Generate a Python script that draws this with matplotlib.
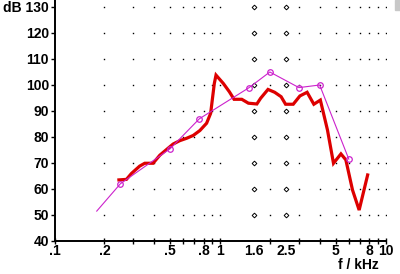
import numpy as np
import matplotlib as mpl
mpl.use('Agg')
import matplotlib.pyplot as plt
import matplotlib.patches as mpatches

plt.rcParams['font.family'] = ['Liberation Sans', 'DejaVu Sans']
plt.rcParams['font.weight'] = 'bold'

#%% DATA
### measured spectrum (thick red)
spec_khz = [0.245, 0.272, 0.292, 0.327, 0.351, 0.394, 0.433, 0.486, 0.521, 0.572,
            0.628, 0.689, 0.756, 0.83, 0.878, 0.898, 0.924, 0.946, 1.047, 1.139,
            1.216, 1.354, 1.485, 1.67, 1.76, 1.95, 2.14, 2.34, 2.49, 2.77,
            3.04, 3.36, 3.69, 4.04, 4.46, 4.85, 5.38, 5.76, 6.32, 6.93, 7.8]
spec_db = [63.5, 63.7, 66.0, 68.8, 69.9, 69.9, 73.0, 75.7, 77.3, 78.6,
           79.5, 80.6, 82.5, 85.3, 89.1, 94.2, 100.6, 103.8, 100.6, 97.4,
           94.5, 94.5, 93.0, 92.7, 94.9, 98.3, 97.2, 95.5, 92.6, 92.6,
           95.8, 97.2, 92.6, 94.2, 82.7, 69.9, 73.5, 71.2, 59.6, 51.9, 65.4]

### target curve (thin magenta), first point has no marker
target_khz = [0.18, 0.25, 0.5, 0.75, 1.5, 2.0, 3.0, 4.0, 6.0]
target_db = [51.5, 62.0, 75.5, 87.0, 99.0, 105.0, 99.0, 100.0, 71.5]

### axes ticks / labels
tick_khz = [0.1, 0.2, 0.3, 0.4, 0.5, 0.6, 0.7, 0.8, 0.9,
            1, 2, 3, 4, 5, 6, 7, 8, 9, 10]
label_khz = [0.1, 0.2, 0.5, 0.8, 1, 1.6, 2.5, 5, 8, 10]
label_txt = ['.1', '.2', '.5', '.8', '1', '1.6', '2.5', '5', '8', '10']
ytick_db = [40, 50, 60, 70, 80, 90, 100, 110, 120, 130]
ytick_txt = ['40', '50', '60', '70', '80', '90', '100', '110', '120', 'dB 130']

### dotted grid
grid_khz = [0.2, 0.3, 0.4, 0.5, 0.6, 0.7, 0.8, 0.9,
            1, 2, 3, 4, 5, 6, 7, 8, 9, 10]
diamond_khz = [1.6, 2.5]
grid_db = [50, 60, 70, 80, 90, 100, 110, 120, 130]

#%% PLOT
f = plt.figure(figsize=(4.0, 2.74), dpi=100)
ax = f.add_axes([54.5/400, 33/274, 331/400, 241/274])

ax.set_xscale('log')
ax.set_xlim(0.1, 10)
ax.set_ylim(40, 40 + 241/2.6)

### grid dots and diamonds
gx, gy = np.meshgrid(grid_khz, grid_db)
ax.plot(gx.ravel(), gy.ravel(), ls='none', marker='s', ms=1.0,
        mfc='k', mec='none', zorder=1)
dx, dy = np.meshgrid(diamond_khz, grid_db)
ax.plot(dx.ravel(), dy.ravel(), ls='none', marker='D', ms=2.4,
        mfc='white', mec='k', mew=0.7, zorder=1)

### curves
ax.plot(spec_khz, spec_db, color='#dd0000', lw=2.3, zorder=3,
        solid_joinstyle='miter')
ax.plot(target_khz, target_db, color='#cc22cc', lw=0.8, zorder=4,
        marker='o', ms=4.0, mfc='none', mec='#cc22cc', mew=0.9,
        markevery=list(range(1, len(target_khz))))

### axes
for s in ['top', 'right']:
    ax.spines[s].set_visible(False)
for s in ['left', 'bottom']:
    ax.spines[s].set_linewidth(1.4)
    ax.spines[s].set_color('k')

ax.xaxis.remove_overlapping_locs = False
ax.set_xticks(tick_khz, labels=['']*len(tick_khz))
ax.tick_params(axis='x', which='major', direction='inout', length=5,
               width=1.0, color='k')
ax.set_xticks(label_khz, labels=label_txt, minor=True)
ax.tick_params(axis='x', which='minor', length=0, pad=2, labelsize=10)

ax.set_yticks(ytick_db, labels=ytick_txt)
ax.tick_params(axis='y', direction='out', length=3, width=1.0, pad=1,
               labelsize=10)

ax.text(358/400, 1 - 265/274, 'f / kHz', transform=f.transFigure,
        ha='center', va='center', fontsize=10, fontweight='bold')

### small grey block at top right
f.patches.append(mpatches.Rectangle((395/400, 1 - 10/274), 5/400, 10/274,
                                    transform=f.transFigure,
                                    color='#c8c8c8', zorder=0))

plt.savefig('out.png', dpi=100)
